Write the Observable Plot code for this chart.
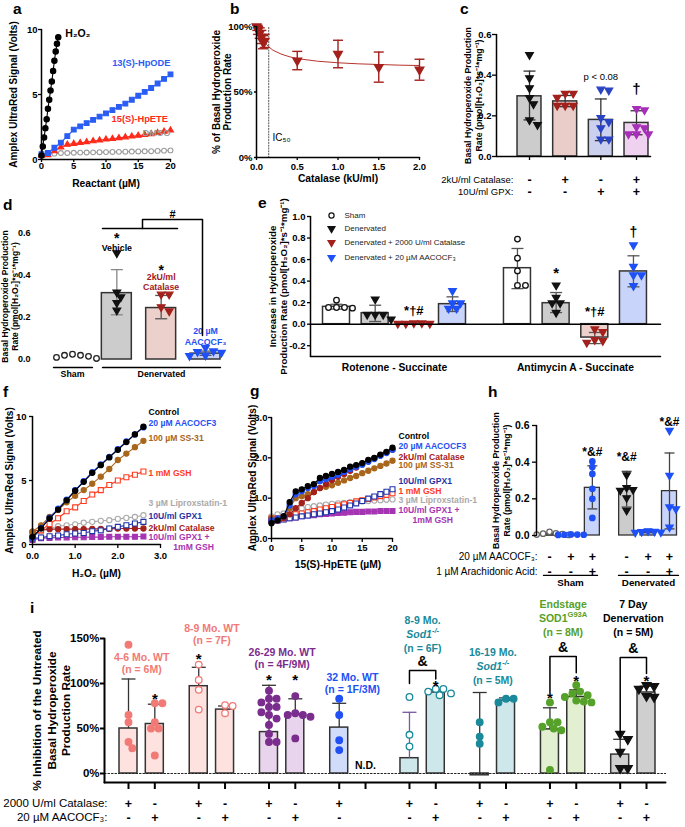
<!DOCTYPE html>
<html>
<head>
<meta charset="utf-8">
<script src="https://cdn.jsdelivr.net/npm/d3@7"></script>
<script src="https://cdn.jsdelivr.net/npm/@observablehq/plot@0.6"></script>
<style>
html,body{margin:0;padding:0;background:#fff;}
#root{position:relative;width:685px;height:827px;overflow:hidden;background:#fff;font-family:"Liberation Sans",Arial,sans-serif;}
.p{position:absolute;}
.p svg{overflow:visible;display:block;}
</style>
</head>
<body>
<div id="root"></div>
<script>
// ================= DATA =================
// (a)
const aH2O2X=[0,0.2,0.4,0.6,0.8,1.0,1.2,1.4,1.6,1.8,2.0,2.2,2.4,2.6];
const aH2O2Y=[0.3,1.0,1.7,2.4,3.1,3.9,4.6,5.3,6.0,6.8,7.6,8.3,8.9,9.4];
const aConc=[0,1,2,3,4,5,6,7,8,9,10,11,12,13,14,15,16,17,18,19,20];
const aHpODE=[0.4,0.5,0.9,1.3,1.8,2.3,2.55,2.8,3.05,3.3,3.55,3.8,4.05,4.3,4.6,4.9,5.2,5.5,5.85,6.2,6.55];
const aHpETE=[0.3,0.35,0.65,0.95,1.15,1.22,1.28,1.35,1.42,1.48,1.55,1.6,1.66,1.72,1.78,1.84,1.9,1.97,2.05,2.15,2.25];
const aDMSO=[0.3,0.4,0.45,0.5,0.5,0.52,0.53,0.54,0.55,0.56,0.57,0.58,0.59,0.6,0.61,0.62,0.63,0.64,0.66,0.68,0.7];
// (b)
const bCat=[0,0.01,0.02,0.04,0.06,0.08,0.1,0.5,1.0,1.5,2.0];
const bPct=[100,99,97,95,92,88,89,74,79,69,67];
const bSD=[0,2,3,4,5,5,5,7,10.5,11.5,8];
const bFitX=[0,0.05,0.1,0.15,0.2,0.3,0.4,0.5,0.75,1,1.25,1.5,1.75,2];
const bFitY=[100,92,88,84.5,82,79,77,75.5,73.5,72.3,71.5,71,70.5,70.2];
const bIC50=0.15;
// (c)
const cMean=[0.296,0.271,0.18,0.165];
const cLo=[0.18,0.245,0.078,0.107];
const cHi=[0.42,0.30,0.283,0.225];
const cPts=[[0.50,0.386,0.337,0.288,0.258,0.179,0.156],[0.31,0.31,0.29,0.25,0.25,0.25],[0.33,0.325,0.19,0.17,0.14,0.085,0.085],[0.235,0.228,0.145,0.14,0.11,0.11,0.11]];
const cCatalase=["-","+","-","+"];
const cGPX=["-","-","+","+"];
// (d)
const dMean=[null,0.316,0.245,0.028];
const dLo=[null,0.213,0.194,0.02];
const dHi=[null,0.428,0.305,0.04];
const dPts=[[0.01,0.02,0.025,0.015,0.02,0.005],[0.507,0.32,0.297,0.27,0.234],[0.31,0.31,0.25,0.23],[0.057,0.04,0.036,0.033,0.02,0.017]];
// (e)
const eGroups=["Rotenone - Succinate","Antimycin A - Succinate"];
const eMean=[0.161,0.102,0.005,0.186,0.52,0.195,-0.124,0.49];
const eLo=[0.14,0.025,0.002,0.118,0.33,0.108,-0.18,0.347];
const eHi=[0.185,0.176,0.008,0.254,0.703,0.294,-0.077,0.635];
const ePts=[[0.223,0.155,0.149,0.155,0.155],[0.232,0.09,0.09,0.09,0.046],[0.01,0.005,0.005,0.005,0.01],[0.31,0.195,0.195,0.146,0.146],
            [0.79,0.613,0.495,0.36,0.36],[0.362,0.248,0.195,0.195,0.108],[-0.071,-0.046,-0.146,-0.17,-0.155],[0.734,0.535,0.455,0.455,0.356]];
const eLegend=["Sham","Denervated","Denervated + 2000 U/ml Catalase","Denervated + 20 µM AACOCF₃"];
// (f)
const fX=[0,0.2,0.4,0.6,0.8,1.0,1.2,1.4,1.6,1.8,2.0,2.2,2.4,2.6];
const fControl=[0.6,1.25,2.03,2.73,3.45,4.2,4.9,5.6,6.2,6.8,7.4,8.0,8.6,9.2];
const fAACO=[0.5,1.3,2.1,2.8,3.5,4.25,4.95,5.65,6.25,6.85,7.45,8.05,8.6,9.15];
const fSS31=[1.0,1.5,2.15,2.7,3.3,3.8,4.25,4.75,5.3,5.9,6.6,7.1,7.6,8.1];
const fGSH=[0.7,1.1,1.6,2.05,2.6,2.9,3.4,3.9,4.25,4.65,5.0,5.25,5.45,5.7];
const fLipro=[0.6,1.0,1.25,1.43,1.5,1.58,1.7,1.77,1.85,1.9,2.0,2.08,2.15,2.29];
const fGPX1=[0.47,0.55,0.65,0.7,0.8,0.86,0.9,1.04,1.1,1.25,1.38,1.5,1.64,1.77];
const fCat=[1.0,1.17,1.2,1.2,1.2,1.2,1.2,1.22,1.22,1.22,1.25,1.25,1.25,1.25];
const fGPXGSH=[0.35,0.5,0.52,0.55,0.55,0.57,0.57,0.58,0.58,0.6,0.6,0.6,0.6,0.62];
const fNames=["Control","20 µM AACOCF3","100 µM SS-31","1 mM GSH","3 µM Liproxstatin-1","10U/ml GPX1","2kU/ml Catalase","10U/ml GPX1 +"];
// (g)
const gX=[0,1,2,3,4,5,6,7,8,9,10,11,12,13,14,15,16,17,18,19,20];
const gControl=[0.38,0.45,0.55,0.9,1.17,1.22,1.3,1.35,1.5,1.55,1.6,1.65,1.7,1.78,1.82,1.87,1.95,2.0,2.08,2.15,2.25];
const gAACO=[0.45,0.5,0.55,0.82,1.1,1.17,1.25,1.3,1.42,1.47,1.53,1.58,1.65,1.72,1.78,1.83,1.9,1.97,2.05,2.12,2.2];
const gCat=[0.45,0.45,0.5,0.6,0.75,0.88,1.0,1.15,1.25,1.35,1.45,1.53,1.6,1.68,1.76,1.84,1.92,1.99,2.06,2.13,2.2];
const gSS31=[0.5,0.5,0.55,0.75,1.0,1.05,1.1,1.15,1.25,1.28,1.32,1.38,1.44,1.5,1.55,1.62,1.68,1.74,1.8,1.86,1.93];
const gGPX1=[0.45,0.45,0.47,0.5,0.52,0.55,0.57,0.6,0.62,0.65,0.68,0.72,0.77,0.82,0.87,0.93,0.99,1.04,1.1,1.16,1.22];
const gGSH=[0.5,0.5,0.52,0.55,0.6,0.62,0.65,0.68,0.72,0.75,0.78,0.82,0.85,0.88,0.92,0.95,0.98,1.02,1.05,1.08,1.12];
const gLipro=[0.55,0.6,0.62,0.65,0.7,0.75,0.78,0.8,0.82,0.84,0.86,0.87,0.88,0.9,0.91,0.92,0.93,0.94,0.95,0.96,0.97];
const gGPXGSH=[0.45,0.45,0.48,0.5,0.52,0.55,0.57,0.58,0.6,0.61,0.62,0.63,0.64,0.65,0.66,0.66,0.67,0.67,0.68,0.68,0.68];
const gNames=["Control","20 µM AACOCF3","2kU/ml Catalase","100 µM SS-31","10U/ml GPX1","1 mM GSH","3 µM Liproxstatin-1","10U/ml GPX1 +"];
// (h)
const hMean=[0.006,0.004,0.26,0.25,0.018,0.242];
const hLo=[0.002,0.002,0.145,0.155,0.015,0.036];
const hHi=[0.012,0.006,0.38,0.35,0.022,0.45];
const hPts=[[0.02,0.012,0.008,0.005,0.003,0.01],[0.006,0.004,0.003,0.005,0.004],[0.404,0.373,0.336,0.255,0.2,0.096],[0.33,0.26,0.25,0.245,0.205,0.136],[0.025,0.022,0.02,0.018,0.016],[0.573,0.327,0.155,0.145,0.045]];
const hAACO=["-","+","+","-","+","+"];
const hAA=["-","-","+","-","-","+"];
// (i)
const iLabels=[["4-6 Mo. WT","(n = 6M)"],["8-9 Mo. WT","(n = 7F)"],["26-29 Mo. WT","(n = 4F/9M)"],["32 Mo. WT","(n = 1F/3M)"],["8-9 Mo.","Sod1^-/-","(n = 6F)"],["16-19 Mo.","Sod1^-/-","(n = 5M)"],["Endstage","SOD1^G93A","(n = 8M)"],["7 Day","Denervation","(n = 5M)"]];
const iCatMean=[50,97,46,51,17,-2,49,21];
const iCatHi=[105,118,98,78,68,90,73,38];
const iAacMean=[55,71,66,null,90,81,85,90];
const iAacHi=[77,75,83,null,93,84,93,97];
const iCatPts=[[143,65,57,35,28],[121,104,93,71],[92,83,83,79,74,74,68,65,61,54,44,35,35],[83,65,37,26],[85,43,30],[57,41,33],[79,57,57,52,50,48,4],[44,38,24,6,6]];
const iAacPts=[[78,78,57,50,50,20],[76,75,67],[86,67,65,65,63,39],[],[94,94,91,89,87],[83,83,79],[98,91,89,87,85,81,80,79],[98,97,94,86,85]];

// ================= STYLE / LAYOUT =================
const root=document.getElementById("root");
const FONT='"Liberation Sans", Arial, sans-serif';
const DR="#a3201c", BL="#1f50f5", NAV="#1f33a6", RED="#ff3a1f", BRN="#a8661c", GRY="#aaaaaa", PUR="#a534b3";
const SQ3=Math.sqrt(3);
const triDown={draw(c,s){const y=-Math.sqrt(s/(SQ3*3));c.moveTo(0,-2*y);c.lineTo(-SQ3*y,y);c.lineTo(SQ3*y,y);c.closePath();}};
const capSym=hw=>({draw(c){c.moveTo(-hw,0);c.lineTo(hw,0);}});
const lin=(pA,vA,pB,vB)=>{const k=(vB-vA)/(pB-pA);return p=>vA+(p-pA)*k;};
const pxPer=f=>1/(f(1)-f(0));

function mk(o){
  const svg=Plot.plot({
    width:o.width,height:o.height,
    marginLeft:o.fx0-o.left,marginRight:o.left+o.width-o.fx1,
    marginTop:o.fy0-o.top,marginBottom:o.top+o.height-o.fy1,
    x:{domain:o.xd,axis:null},y:{domain:o.yd,axis:null},
    color:{type:"identity"},
    style:`background:transparent;overflow:visible;font-family:${FONT};`,
    marks:o.marks.flat(3)
  });
  const d=document.createElement("div");
  d.className="p";d.style.left=o.left+"px";d.style.top=o.top+"px";d.style.width=o.width+"px";d.style.height=o.height+"px";
  d.appendChild(svg);root.appendChild(d);
}
const seg=(x1,y1,x2,y2,o={})=>Plot.line([[x1,y1],[x2,y2]],{stroke:"#000",strokeWidth:1.5,...o});
const axY=o=>Plot.axisY({label:null,fontSize:9.5,fontWeight:"bold",tickSize:3,tickPadding:1,strokeWidth:1.3,...o});
const axX=o=>Plot.axisX({label:null,fontSize:9.5,fontWeight:"bold",tickSize:3,tickPadding:0,strokeWidth:1.3,...o});
const T=(x,y,s,o={})=>Plot.text([{x,y,s}],{x:"x",y:"y",text:"s",fontSize:10,fontWeight:"bold",...o});
const ytitle=(s,dx,fs=10,lh=1.1)=>Plot.text([s],{text:d=>d,frameAnchor:"left",dx,rotate:-90,textAnchor:"middle",lineAnchor:"middle",fontSize:fs,fontWeight:"bold",lineHeight:lh});
const xtitle=(s,dy,fs=10.3,dx=0)=>Plot.text([s],{text:d=>d,frameAnchor:"bottom",dy,dx,textAnchor:"middle",lineAnchor:"middle",fontSize:fs,fontWeight:"bold"});
const rowT=(xs,ss,dy,o={})=>Plot.text(xs.map((x,i)=>({x,s:ss[i]})).filter(d=>d.s!=null),{x:"x",text:"s",frameAnchor:"bottom",dy,lineAnchor:"middle",textAnchor:"middle",fontSize:12.5,fontWeight:"bold",...o});

function ser(xs,ys,{color,symbol="circle",fill,r=2.6,sw=1.1}){
  const d=xs.map((x,i)=>({x,y:ys[i]}));
  return [Plot.line(d,{x:"x",y:"y",stroke:color,strokeWidth:sw}),
          Plot.dot(d,{x:"x",y:"y",symbol,r,fill:fill||color,stroke:color,strokeWidth:1.1})];
}
function swarm(vals,ky,d,step){
  const idx=vals.map((_,i)=>i).sort((a,b)=>vals[b]-vals[a]);
  const placed=[],out=new Array(vals.length).fill(0);
  for(const i of idx){
    const y=vals[i]*ky;let off=0;
    for(let k=0;k<80;k++){
      const o=k===0?0:(k%2?1:-1)*Math.ceil(k/2)*step;
      if(placed.every(p=>Math.hypot(p.x-o,p.y-y)>=d)){off=o;break;}
    }
    placed.push({x:off,y});out[i]=off;
  }
  return out;
}
function barDot(c){
  const m=[];const sw=c.barSW||1.5;
  c.pos.forEach((p,i)=>{
    if(c.mean[i]==null||!c.fill[i])return;
    m.push(Plot.rect([{a:p-c.hw,b:p+c.hw,m:c.mean[i]}],{x1:"a",x2:"b",y1:0,y2:"m",fill:c.fill[i],stroke:c.barStroke||"#333",strokeWidth:sw}));
  });
  c.pos.forEach((p,i)=>{
    if(c.mean[i]==null||c.hi[i]==null)return;
    const lo=c.lo?c.lo[i]:c.mean[i],hi=c.hi[i];
    const col=(c.errColor&&c.errColor[i])||"#333";
    m.push(Plot.ruleX([{x:p,a:lo,b:hi}],{x:"x",y1:"a",y2:"b",stroke:col,strokeWidth:c.errSW||1.3}));
    const caps=c.lo?[lo,hi]:[hi];
    m.push(Plot.dot(caps.map(y=>({x:p,y})),{x:"x",y:"y",symbol:capSym(c.capHW),fill:"none",stroke:col,strokeWidth:c.errSW||1.3}));
  });
  c.pos.forEach((p,i)=>{
    const v=c.pts[i];if(!v||!v.length)return;
    const off=swarm(v,c.pxY,c.coll||2*c.r,c.step||c.r*1.1);
    m.push(Plot.dot(v.map((y,k)=>({x:p+off[k]/c.pxX,y})),{x:"x",y:"y",symbol:c.sym[i],r:c.r,fill:c.open&&c.open[i]?"white":c.color[i],stroke:c.color[i],strokeWidth:1.3}));
  });
  return m;
}
const cvs=document.createElement("canvas").getContext("2d");
function tw(s,fs,st){cvs.font=`${st} bold ${fs}px "Liberation Sans"`;return cvs.measureText(s).width;}
function supLabel(xc,y,base,sup,fs,fill,italic,pxX){
  const st=italic?"italic":"normal";
  const wb=tw(base,fs,st),ws=tw(sup,fs*0.72,st);
  const x0=xc-(wb+ws)/2/pxX;
  return [T(x0,y,base,{textAnchor:"start",fontSize:fs,fill,fontStyle:st}),
          T(x0+wb/pxX,y,sup,{textAnchor:"start",fontSize:fs*0.72,fill,fontStyle:st,dy:-4})];
}

// ================= (a) =================
mk({left:0,top:0,width:230,height:200,fx0:41,fx1:170,fy0:29,fy1:159,xd:[0,20],yd:[0,10],marks:[
  ser(aConc,aDMSO,{color:"#9c9c9c",fill:"white",r:2.4}),
  ser(aConc,aHpETE,{color:"#ff2a1a",symbol:"triangle",r:2.2}),
  ser(aConc,aHpODE,{color:"#2a5df4",symbol:"square",r:2.7}),
  ser(aH2O2X,aH2O2Y,{color:"#000",r:2.7}),
  seg(0,0,0,10),seg(0,0,20,0),
  axY({ticks:[0,5,10]}),axX({ticks:[0,5,10,15,20]}),
  T(3.7,9.7,"H₂O₂",{textAnchor:"start",fontSize:10.5}),
  T(20,7.45,"13(S)-HpODE",{textAnchor:"end",fill:"#2a5df4",fontSize:9.3}),
  T(19.6,3.15,"15(S)-HpETE",{textAnchor:"end",fill:"#ff2a1a",fontSize:9.3}),
  T(20,2.0,"DMSO",{textAnchor:"end",fill:"#9c9c9c",fontSize:9.3}),
  ytitle("Amplex UltraRed Signal (Volts)",-28,10),
  xtitle("Reactant (µM)",24)
]});

// ================= (b) =================
const bData=bCat.map((x,i)=>({x,y:bPct[i],lo:bPct[i]-bSD[i],hi:bPct[i]+bSD[i]}));
const bFit=bFitX.map((x,i)=>({x,y:bFitY[i]}));
mk({left:200,top:0,width:255,height:200,fx0:256,fx1:419,fy0:26,fy1:157,xd:[0,2],yd:[0,100],marks:[
  Plot.line(bFit,{x:"x",y:"y",stroke:"#b8342e",strokeWidth:1}),
  seg(bIC50,0,bIC50,100,{stroke:"#555",strokeWidth:1,strokeDasharray:"1.2,1.6"}),
  Plot.ruleX(bData.filter(d=>d.hi>d.lo),{x:"x",y1:"lo",y2:"hi",stroke:DR,strokeWidth:1.4}),
  Plot.dot(bData.filter(d=>d.hi>d.lo),{x:"x",y:"hi",symbol:capSym(5),fill:"none",stroke:DR,strokeWidth:1.4}),
  Plot.dot(bData.filter(d=>d.hi>d.lo),{x:"x",y:"lo",symbol:capSym(5),fill:"none",stroke:DR,strokeWidth:1.4}),
  Plot.dot(bData,{x:"x",y:"y",symbol:triDown,r:3.1,fill:DR,stroke:DR}),
  seg(0,0,0,100),seg(0,0,2,0),
  axY({ticks:[0,50,100],tickFormat:d=>d+"%",tickSize:2,tickPadding:2}),
  axX({ticks:[0,0.5,1,1.5,2],tickFormat:d=>d.toFixed(1),tickPadding:3}),
  T(bIC50+0.045,15,"IC₅₀",{textAnchor:"start",fontWeight:"normal",fontSize:10}),
  ytitle("% of Basal Hydroperoxide\nProduction Rate",-34.5,10,1.1),
  xtitle("Catalase (kU/ml)",21)
]});

// ================= (c) =================
const cxs=lin(529,0,636,3);
const cPos=[0,1,2,3];
mk({left:400,top:0,width:285,height:200,fx0:496,fx1:650,fy0:34,fy1:156,xd:[cxs(496),cxs(650)],yd:[0,0.6],marks:[
  barDot({pos:cPos,mean:cMean,lo:cLo,hi:cHi,pts:cPts,fill:["#cccccc","#eacdc9","#cbd0ee","#efd2ef"],color:["#111",DR,"#2a43c4","#a62fb8"],sym:[triDown,triDown,triDown,triDown],hw:0.336,pxX:pxPer(cxs),pxY:203.3,r:2.8,coll:7,step:4,capHW:6}),
  seg(cxs(496),0,cxs(496),0.6),seg(cxs(496),0,cxs(650),0),
  axY({ticks:[0,0.2,0.4,0.6],tickFormat:d=>d.toFixed(1),tickSize:4,tickPadding:1}),
  axX({ticks:cPos,tickFormat:()=>"",tickSize:4}),
  T(2,0.39,"p < 0.08",{fontWeight:"normal",fontSize:9.5}),
  T(3,0.33,"†",{fontSize:15}),
  rowT([cxs(513)],["2kU/ml Catalase:"],23,{textAnchor:"end",fontSize:9.5,fontWeight:"normal"}),
  rowT([cxs(513)],["10U/ml GPX:"],35,{textAnchor:"end",fontSize:9.5,fontWeight:"normal"}),
  rowT(cPos,cCatalase,23),rowT(cPos,cGPX,35),
  ytitle("Basal Hydroperoxide Production\nRate (pmol[H₂O₂]*s⁻¹*mg⁻¹)",-23.5,8.8,1.25)
]});

// ================= (d) =================
const dxs=lin(72,0,205,3);
const dPos=[0,1,2,3];
mk({left:0,top:195,width:230,height:190,fx0:33,fx1:225,fy0:233,fy1:359,xd:[dxs(33),dxs(225)],yd:[0,0.6],marks:[
  axY({ticks:[0,0.2,0.4,0.6],tickFormat:d=>d.toFixed(1),tickSize:0,tickPadding:3,fontSize:9}),
  barDot({pos:dPos,mean:dMean,lo:dLo,hi:dHi,pts:dPts,fill:[null,"#cccccc","#ecd0cb","#c6d1f9"],color:["#222","#111",DR,BL],sym:["circle",triDown,triDown,triDown],open:[true,false,false,false],errColor:[null,"#888","#555","#555"],hw:0.338,pxX:pxPer(dxs),pxY:210,r:2.8,coll:6,step:4,capHW:6}),
  T(1,0.595,"*",{fontSize:14,dy:4}),T(1,0.532,"Vehicle",{fontSize:8.8}),
  T(2,0.445,"*",{fontSize:14,dy:4}),T(2,0.39,"2kU/ml",{fontSize:8.8,fill:DR}),T(2,0.346,"Catalase",{fontSize:8.8,fill:DR}),
  T(3,0.133,"20 µM",{fontSize:8.8,fill:BL}),T(3,0.081,"AACOCF₃",{fontSize:8.8,fill:BL}),
  Plot.line([[dxs(102),0.624],[dxs(177),0.624]],{stroke:"#000",strokeWidth:1.5}),
  Plot.line([[dxs(142),0.624],[dxs(142),0.667],[dxs(202),0.667],[dxs(202),0.114]],{stroke:"#000",strokeWidth:1.5}),
  T(dxs(172),0.69,"#",{fontSize:11}),
  Plot.line([[dxs(53),-0.038],[dxs(92),-0.038]],{stroke:"#000",strokeWidth:1.3}),
  Plot.line([[dxs(102),-0.038],[dxs(220),-0.038]],{stroke:"#000",strokeWidth:1.3}),
  T(0,-0.07,"Sham",{fontSize:8.8}),T(dxs(161),-0.07,"Denervated",{fontSize:8.8}),
  ytitle("Basal Hydroperoxide Production\nRate (pmol[H₂O₂]*s⁻¹*mg⁻¹)",-23.5,8.5,1.08)
]});

// ================= (e) =================
const exs=lin(336,0,452,3);
const ePos=[0,1,2,3,4.68,5.68,6.68,7.68];
const eFill4=["#ffffff","#cccccc","#ecd0cb","#c9d4fb"],eCol4=["#111","#111",DR,BL],eSym4=["circle",triDown,triDown,triDown],eOpen4=[true,false,false,false];
const eLegY=[1.009,0.888,0.758,0.619];
mk({left:255,top:195,width:430,height:185,fx0:310,fx1:660,fy0:216,fy1:356,xd:[exs(310),exs(660)],yd:[-0.3,1.0],marks:[
  barDot({pos:ePos,mean:eMean,lo:eLo,hi:eHi,pts:ePts,fill:[...eFill4,...eFill4],color:[...eCol4,...eCol4],sym:[...eSym4,...eSym4],open:[...eOpen4,...eOpen4],errColor:Array(8).fill("#555"),hw:0.349,pxX:pxPer(exs),pxY:107.7,r:2.8,coll:6.5,step:4,capHW:6}),
  seg(exs(310),0,exs(660),0,{strokeWidth:1.5}),
  seg(exs(310),-0.3,exs(310),1.0),seg(exs(310),-0.3,exs(660),-0.3),
  axY({ticks:[-0.2,0,0.2,0.4,0.6,0.8,1.0],tickFormat:d=>d.toFixed(1),tickSize:3,tickPadding:2}),
  eLegend.map((s,i)=>Plot.dot([{x:exs(331),y:eLegY[i]}],{x:"x",y:"y",symbol:eSym4[i],r:2.6,fill:eOpen4[i]?"white":eCol4[i],stroke:eCol4[i],strokeWidth:1.2})),
  Plot.text(eLegend.map((s,i)=>({x:exs(344),y:eLegY[i],s})),{x:"x",y:"y",text:"s",textAnchor:"start",fontSize:8,fill:"#222"}),
  T(2,0.144,"*†#",{fontSize:13,dy:2}),T(6.68,0.135,"*†#",{fontSize:13,dy:2}),
  T(5.68,0.507,"*",{fontSize:15,dy:4}),T(7.68,0.85,"†",{fontSize:14}),
  Plot.text([{x:1.5,s:eGroups[0]},{x:6.18,s:eGroups[1]}],{x:"x",text:"s",frameAnchor:"bottom",dy:11,lineAnchor:"middle",textAnchor:"middle",fontSize:10.3,fontWeight:"bold"}),
  ytitle("Increase in Hydroperoxide\nProduction Rate (pmol[H₂O₂]*s⁻¹*mg⁻¹)",-32.5,9.7,1.13)
]});

// ================= (f) =================
const fCols=["#000",BL,BRN,RED,GRY,NAV,DR,PUR];
const fLabY=[10.3,9.5,8.3,5.6,3.2,2.2,1.25,0.55];
mk({left:0,top:380,width:250,height:200,fx0:32,fx1:160,fy0:416,fy1:544,xd:[0,3],yd:[0,10],marks:[
  ser(fX,fLipro,{color:GRY,fill:"white"}),
  ser(fX,fGPXGSH,{color:PUR,symbol:"square",r:2.8}),
  ser(fX,fCat,{color:DR}),
  ser(fX,fGPX1,{color:NAV,symbol:"square",fill:"white",r:2.8}),
  ser(fX,fGSH,{color:RED,symbol:"square",fill:"white",r:2.8}),
  ser(fX,fSS31,{color:BRN}),
  ser(fX,fAACO,{color:BL}),
  ser(fX,fControl,{color:"#000"}),
  seg(0,0,0,10),seg(0,0,3,0),
  axY({ticks:[0,5,10],tickSize:3,tickPadding:3}),axX({ticks:[0,1,2,3],tickSize:4,tickPadding:4}),
  Plot.text(fNames.map((s,i)=>({x:2.72,y:fLabY[i],s,c:fCols[i]})),{x:"x",y:"y",text:"s",fill:"c",textAnchor:"start",fontSize:8.6,fontWeight:"bold"}),
  T(3.3,-0.23,"1mM GSH",{textAnchor:"start",fontSize:8.6,fill:PUR}),
  ytitle("Amplex UltraRed Signal (Volts)",-23,10),
  xtitle("H₂O₂ (µM)",29)
]});

// ================= (g) =================
const gCols=["#000",BL,DR,BRN,NAV,RED,GRY,PUR];
const gLabY=[2.53,2.28,2.01,1.81,1.41,1.17,0.94,0.69];
mk({left:228,top:380,width:260,height:200,fx0:271,fx1:392,fy0:417,fy1:538,xd:[0,20],yd:[0,3],marks:[
  ser(gX,gLipro,{color:GRY,fill:"white"}),
  ser(gX,gGPXGSH,{color:PUR,symbol:"square",r:2.8}),
  ser(gX,gGSH,{color:RED,symbol:"square",fill:"white",r:2.8}),
  ser(gX,gGPX1,{color:NAV,symbol:"square",fill:"white",r:2.8}),
  ser(gX,gSS31,{color:BRN}),
  ser(gX,gCat,{color:DR}),
  ser(gX,gAACO,{color:BL}),
  ser(gX,gControl,{color:"#000"}),
  seg(0,0,0,3),seg(0,0,20,0),
  axY({ticks:[0,1,2,3],tickSize:3,tickPadding:1}),axX({ticks:[0,5,10,15,20],tickSize:4,tickPadding:2}),
  Plot.text(gNames.map((s,i)=>({x:21.0,y:gLabY[i],s,c:gCols[i]})),{x:"x",y:"y",text:"s",fill:"c",textAnchor:"start",fontSize:8.6,fontWeight:"bold"}),
  T(23.3,0.45,"1mM GSH",{textAnchor:"start",fontSize:8.6,fill:PUR}),
  ytitle("Amplex UltraRed Signal (Volts)",-19,10),
  xtitle("15(S)-HpETE (µM)",26,10.3,6)
]});

// ================= (h) =================
const hxs=lin(549,0,669,5.6);
const hPos=[0,1,2,3.6,4.6,5.6];
mk({left:430,top:400,width:255,height:190,fx0:536,fx1:680,fy0:425,fy1:535,xd:[hxs(536),hxs(680)],yd:[0,0.6],marks:[
  barDot({pos:hPos,mean:hMean,lo:hLo,hi:hHi,pts:hPts,fill:["#ffffff","#c9d4fb","#c9d4fb","#cccccc","#c9d4fb","#c9d4fb"],color:["#666",BL,BL,"#111",BL,BL],sym:["circle","circle","circle",triDown,triDown,triDown],open:[true,false,false,false,false,false],errColor:Array(6).fill("#444"),hw:0.35,pxX:pxPer(hxs),pxY:183.3,r:2.7,coll:5.5,step:3.2,capHW:5,barSW:1.3}),
  seg(hxs(536),0,hxs(536),0.6),
  axY({ticks:[0,0.2,0.4,0.6],tickFormat:d=>d.toFixed(1),tickSize:4,tickPadding:3,fontSize:10.5}),
  T(2,0.453,"*&#",{fontSize:12}),T(3.6,0.43,"*&#",{fontSize:12}),T(5.6,0.617,"*&#",{fontSize:12}),
  rowT([hxs(537)],["20 µM AACOCF₃:"],21,{textAnchor:"end",fontSize:10,fontWeight:"normal"}),
  rowT([hxs(537)],["1 µM Arachidonic Acid:"],36,{textAnchor:"end",fontSize:10,fontWeight:"normal"}),
  rowT(hPos,hAACO,21),rowT(hPos,hAA,36),
  Plot.line([[hxs(543),-0.218],[hxs(597),-0.218]],{stroke:"#000",strokeWidth:1.3}),
  Plot.line([[hxs(618),-0.218],[hxs(678),-0.218]],{stroke:"#000",strokeWidth:1.3}),
  T(hxs(570),-0.256,"Sham",{fontSize:9.8}),T(hxs(648),-0.256,"Denervated",{fontSize:9.8}),
  ytitle("Basal Hydroperoxide Production\nRate (pmol[H₂O₂]*s⁻¹*mg⁻¹)",-35.5,8.8,1.25)
]});

// ================= (i) =================
const ixs=lin(128,0,646,19.69);
const iPxX=pxPer(ixs);
const iColor=["#f27a76","#f27a76","#7b2d8e","#2150f5","#1a8a9a","#1a8a9a","#56a12a","#111111"];
const iFill=["#fde2df","#fde2df","#e8d4ec","#d1dcfb","#cde7eb","#cde7eb","#e2efd0","#cfcfcf"];
const iOpen=[false,true,false,false,true,false,false,false];
const iSym=["circle","circle","circle","circle","circle","circle","circle",triDown];
const iPosC=iCatMean.map((_,g)=>g*2.67), iPosA=iCatMean.map((_,g)=>g*2.67+1);
const iLabTop=[128.9,161,134.4,106.7,170,134.4,187.8,187.8];
const iStars=[[0,1,86.7],[1,0,131],[2,0,107.8],[2,1,107.8],[4,1,101],[6,0,87.8],[6,1,106.7],[7,1,106.7]];
const iBrk=[[4,100,114.4,105,124.4],[6,90,130,112,140],[7,45,129,111,139]];
const iLabelMarks=[];
iLabels.forEach((lines,g)=>{
  const xc=g*2.67+0.5, sp=lines.length===3?15.5:13.3;
  lines.forEach((s,k)=>{
    const y=iLabTop[g]-k*sp, col=iColor[g]==="#111111"?"#000":iColor[g];
    if(s.includes("^")){const [b,sup]=s.split("^");iLabelMarks.push(supLabel(xc,y,b,sup,10.5,col,b==="Sod1",iPxX));}
    else iLabelMarks.push(T(xc,y,s,{fontSize:10.5,fill:col}));
  });
});
mk({left:0,top:595,width:685,height:232,fx0:104,fx1:665,fy0:638,fy1:782,xd:[ixs(104),ixs(665)],yd:[-10,150],marks:[
  barDot({pos:[...iPosC,...iPosA],mean:[...iCatMean,...iAacMean],hi:[...iCatHi,...iAacHi],pts:[...iCatPts,...iAacPts],fill:[...iFill,...iFill],color:[...iColor,...iColor],sym:[...iSym,...iSym],open:[...iOpen,...iOpen],errColor:[null,null,null,null,"#7a5aa0",null,null,null],hw:0.342,pxX:iPxX,pxY:0.9,r:3.3,coll:7,step:3.8,capHW:7}),
  seg(ixs(104),0,ixs(665),0,{strokeDasharray:"1.5,2",strokeWidth:1.2,stroke:"#222"}),
  seg(ixs(104),-10,ixs(104),150,{strokeWidth:2}),seg(ixs(104),-10,ixs(665),-10,{strokeWidth:2}),
  axY({ticks:[0,50,100,150],tickFormat:d=>d+"%",fontSize:11.5,tickSize:4,tickPadding:1,strokeWidth:2}),
  axX({ticks:[...iPosC,...iPosA],tickFormat:()=>"",tickSize:7,strokeWidth:2}),
  iLabelMarks,
  iStars.map(([g,k,y])=>T(g*2.67+k,y,"*",{fontSize:15,dy:4})),
  iBrk.map(([g,l,t,r,a])=>[Plot.line([[g*2.67,l],[g*2.67,t],[g*2.67+1,t],[g*2.67+1,r]],{stroke:"#000",strokeWidth:1.5}),T(g*2.67+0.5,a,"&",{fontSize:14})]),
  T(3*2.67+1,9,"N.D.",{fontSize:10.5}),
  rowT([ixs(107)],["2000 U/ml Catalase:"],21,{textAnchor:"end",fontSize:11.5,fontWeight:"normal"}),
  rowT([ixs(107)],["20 µM AACOCF₃:"],35,{textAnchor:"end",fontSize:11.5,fontWeight:"normal"}),
  rowT([...iPosC,...iPosA],[...iCatMean.map(()=>"+"),...iAacMean.map(v=>v==null?null:"-")],21),
  rowT([...iPosC,...iPosA],[...iCatMean.map(()=>"-"),...iAacMean.map(v=>v==null?null:"+")],35),
  ytitle("% Inhibition of the Untreated\nBasal Hydroperoxide\nProduction Rate",-53.5,11.8,1.2)
]});

// ================= panel letters =================
const lsvg=d3.create("svg").attr("width",685).attr("height",827)
  .style("position","absolute").style("left","0px").style("top","0px").style("pointer-events","none");
[["a",13,14],["b",230,14],["c",460,14],["d",3,210],["e",258,208],["f",3,397],["g",250,396],["h",488,397],["i",30,613]].forEach(([s,x,b])=>{
  lsvg.append("text").attr("x",x).attr("y",b).attr("font-family",FONT).attr("font-weight","bold").attr("font-size",15.5).text(s);
});
root.appendChild(lsvg.node());
</script>
</body>
</html>
